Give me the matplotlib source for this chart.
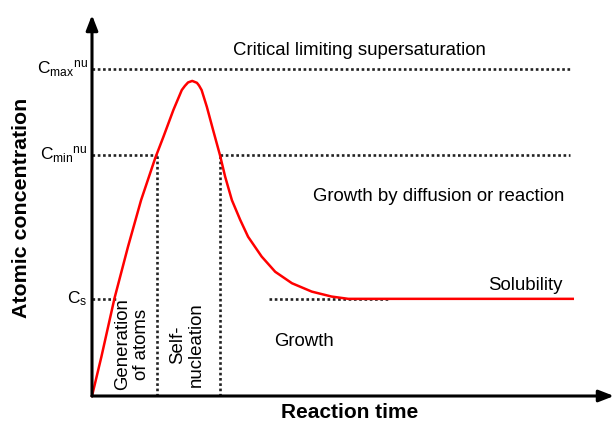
import matplotlib
matplotlib.use("Agg")
import matplotlib.pyplot as plt

plt.rcParams['font.family'] = ['Liberation Sans', 'DejaVu Sans']

# Supersaturation curve (LaMer diagram)
time = [0.00, 0.18, 0.43, 0.69, 0.94, 1.21, 1.37, 1.56, 1.72, 1.78, 1.84, 1.92,
        2.01, 2.05, 2.10, 2.20, 2.32, 2.45, 2.55, 2.68, 2.84, 2.99, 3.25, 3.51,
        3.83, 4.21, 4.59, 4.91, 9.21]
conc = [0.00, 1.03, 2.56, 3.92, 5.14, 6.24, 6.81, 7.51, 8.03, 8.14, 8.23, 8.27,
        8.22, 8.15, 8.03, 7.59, 6.98, 6.33, 5.76, 5.14, 4.62, 4.18, 3.66, 3.26,
        2.96, 2.74, 2.61, 2.55, 2.55]

level_values = [8.58, 6.33, 2.55]
level_labels = [r'C$\mathregular{_{max}}$$\mathregular{^{nu}}$',
                r'C$\mathregular{_{min}}$$\mathregular{^{nu}}$',
                r'C$\mathregular{_{s}}$']
c_max, c_min, c_s = level_values
t_nuc_start, t_nuc_end = 1.245, 2.45
line_end = 9.16

fig = plt.figure(figsize=(6.16, 4.22), dpi=100)
ax = fig.add_axes([0, 0, 1, 1])
# pixel -> data mapping: x=(px-92)/52.2, y=(396-py)/38.1
ax.set_xlim(-92 / 52.2, (616 - 92) / 52.2)
ax.set_ylim((396 - 422) / 38.1, 396 / 38.1)
ax.axis('off')

dot = dict(color='#222222', lw=1.9, linestyle=(0, (1.0, 1.0)))
# horizontal dotted levels
ax.plot([0, line_end], [c_max, c_max], **dot)
ax.plot([0, t_nuc_start], [c_min, c_min], **dot)
ax.plot([t_nuc_end, line_end], [c_min, c_min], **dot)
ax.plot([0, 0.47], [c_s, c_s], **dot)
ax.plot([3.39, 5.67], [c_s, c_s], **dot)
# vertical dotted lines
ax.plot([t_nuc_start, t_nuc_start], [0, c_min], **dot)
ax.plot([t_nuc_end, t_nuc_end], [0, c_min], **dot)

# curve
ax.plot(time, conc, color='#ff0000', lw=1.8, solid_joinstyle='round', zorder=3)

# axes arrows
arrow = dict(arrowstyle='-|>,head_length=0.9,head_width=0.35', color='black', lw=2.2,
             shrinkA=0, shrinkB=0)
ax.annotate('', xy=(0, (396 - 15) / 38.1), xytext=(0, 0), arrowprops=arrow)
ax.annotate('', xy=((614 - 92) / 52.2, 0), xytext=(0, 0), arrowprops=arrow)

# level labels
for v, lab in zip(level_values, level_labels):
    ax.text(-0.08, v, lab, ha='right', va='center', fontsize=12.5)

fs = 13.4
ax.text((233 - 92) / 52.2, (396 - 51) / 38.1, 'Critical limiting supersaturation',
        ha='left', va='center', fontsize=fs)
ax.text((313 - 92) / 52.2, (396 - 197) / 38.1, 'Growth by diffusion or reaction',
        ha='left', va='center', fontsize=fs)
ax.text((563 - 92) / 52.2, (396 - 286) / 38.1, 'Solubility',
        ha='right', va='center', fontsize=fs)
ax.text((274 - 92) / 52.2, (396 - 341) / 38.1, 'Growth',
        ha='left', va='center', fontsize=fs)
ax.text((132 - 92) / 52.2, (396 - 344) / 38.1, 'Generation\nof atoms', rotation=90,
        ha='center', va='center', fontsize=fs, linespacing=1.1)
ax.text((187 - 92) / 52.2, (396 - 345) / 38.1, 'Self-\nnucleation', rotation=90,
        ha='center', va='center', fontsize=fs, linespacing=1.1)

ax.text((350 - 92) / 52.2, (396 - 412) / 38.1, 'Reaction time',
        ha='center', va='center', fontsize=15, fontweight='bold')
ax.text((22 - 92) / 52.2, (396 - 208) / 38.1, 'Atomic concentration', rotation=90,
        ha='center', va='center', fontsize=15.4, fontweight='bold')

fig.savefig('out.png', dpi=100)
